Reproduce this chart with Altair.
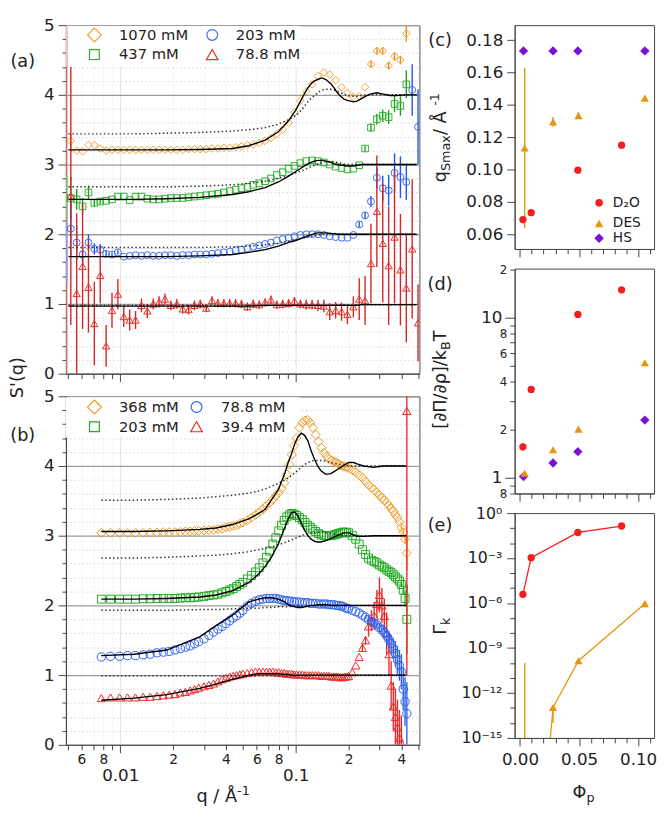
import altair as alt
import pandas as pd

FONT = "DejaVu Sans"
INK = "#222222"
FRAME = "#444444"

C1070, C437, C203, C788 = "#F0A030", "#2DB12D", "#3B6CF2", "#E5322C"
C368, C203B, C788B, C394 = "#EE9A1E", "#22A922", "#2F62F0", "#F02828"
C_D2O, C_DES, C_HS = "#F41E1E", "#E8940C", "#7A12D6"

# ---------------- panel (a) data ----------------
QA = [0.005224, 0.005642, 0.006097, 0.006587, 0.007115, 0.007688, 0.008305, 0.00897, 0.009692, 0.01047,
      0.01131, 0.01222, 0.0132, 0.01426, 0.01541, 0.01664, 0.01798, 0.01942, 0.02099, 0.02267,
      0.02449, 0.02646, 0.02858, 0.03088, 0.03336, 0.03603, 0.03893, 0.04205, 0.04543, 0.04908,
      0.05302, 0.05728, 0.06188, 0.06685, 0.07222, 0.07802, 0.08428, 0.09106, 0.09837, 0.1063,
      0.1148, 0.124, 0.134, 0.1447, 0.1563, 0.1689, 0.1825, 0.1971, 0.213, 0.2301,
      0.2485, 0.2685, 0.2901, 0.3134, 0.3386, 0.3658, 0.3952, 0.4269, 0.4612, 0.4982]
A1070 = [3.34, 3.20, 3.19, 3.28, 3.28, 3.23, 3.20, 3.21, 3.21, 3.21,
         3.21, 3.21, 3.21, 3.21, 3.21, 3.21, 3.21, 3.21, 3.21, 3.21,
         3.22, 3.22, 3.22, 3.22, 3.23, 3.23, 3.24, 3.24, 3.25, 3.26,
         3.28, 3.29, 3.31, 3.34, 3.38, 3.44, 3.50, 3.60, 3.75, 3.92,
         4.05, 4.15, 4.27, 4.32, 4.29, 4.21, 4.11, 4.03, 3.97, 3.98,
         4.11, 4.44, 4.63, 4.63, 4.42, 4.55, 4.50, 4.88, None, None]
A437 = [2.52, 2.50, 2.40, 2.60, 2.45, 2.47, 2.48, 2.50, 2.54, 2.54,
        2.49, 2.54, 2.54, 2.51, 2.50, 2.50, 2.51, 2.52, 2.52, 2.52,
        2.53, 2.54, 2.55, 2.56, 2.57, 2.58, 2.60, 2.62, 2.64, 2.66,
        2.68, 2.71, 2.73, 2.76, 2.80, 2.85, 2.89, 2.94, 2.98, 3.02,
        3.05, 3.06, 3.05, 3.03, 3.00, 2.97, 2.95, 2.93, 2.94, 2.99,
        3.23, 3.53, 3.65, 3.70, 3.68, 3.87, 3.84, 4.15, None, None]
A203 = [2.08, 1.88, 1.71, 1.88, 1.79, 1.78, 1.72, 1.71, 1.74, 1.68,
        1.69, 1.70, 1.69, 1.70, 1.69, 1.69, 1.70, 1.70, 1.69, 1.70,
        1.70, 1.71, 1.71, 1.71, 1.72, 1.73, 1.74, 1.75, 1.77, 1.78,
        1.80, 1.82, 1.84, 1.86, 1.88, 1.91, 1.93, 1.95, 1.97, 1.99,
        2.00, 2.00, 2.00, 1.99, 1.97, 1.96, 1.95, 1.95, 1.99, 2.14,
        2.27, 2.47, 2.81, 2.66, 2.63, 2.88, 2.82, 2.75, 4.07, 3.54]
A788 = [2.55, 1.15, 1.54, 1.24, 0.72, 1.41, 0.40, 0.91, 1.14, 0.82,
        0.77, 0.77, 0.98, 0.90, 1.00, 1.03, 1.07, 0.98, 1.00, 0.93,
        0.92, 0.98, 1.00, 0.94, 1.05, 1.01, 1.01, 1.01, 1.01, 1.00,
        0.96, 1.00, 0.99, 1.02, 1.06, 0.99, 1.00, 1.01, 1.04, 1.00,
        0.99, 0.99, 0.98, 0.97, 0.89, 0.91, 0.89, 0.85, 0.96, 1.07,
        1.05, 1.58, 2.33, 1.87, 1.55, 1.96, 1.49, 1.23, 1.79, 0.73]
A788_E = [1.85, 1.15, 0.90, 0.65, 0.60, 0.40, 0.30, 0.25, 0.22, 0.15,
          0.15, 0.13, 0.10, 0.10, 0.08, 0.08, 0.08, 0.07, 0.07, 0.07,
          0.07, 0.07, 0.06, 0.06, 0.06, 0.06, 0.06, 0.06, 0.06, 0.06,
          0.06, 0.06, 0.06, 0.06, 0.06, 0.06, 0.06, 0.06, 0.06, 0.06,
          0.07, 0.07, 0.08, 0.09, 0.12, 0.12, 0.13, 0.14, 0.15, 0.30,
          0.35, 0.57, 0.80, 0.85, 0.85, 0.95, 0.80, 0.78, 1.00, 0.55]
A1070_ERR = {0: 0.10, 51: 0.05, 52: 0.05, 53: 0.05, 54: 0.05, 55: 0.06, 56: 0.06, 57: 0.12}
A437_ERR = {0: 0.30, 1: 0.15, 2: 0.12, 3: 0.10, 4: 0.05, 5: 0.04, 50: 0.04, 51: 0.06,
            52: 0.08, 53: 0.09, 54: 0.10, 55: 0.12, 56: 0.14, 57: 0.20}
A203_ERR = {0: 0.40, 1: 0.25, 2: 0.15, 3: 0.12, 4: 0.08, 5: 0.08, 6: 0.04, 7: 0.03, 8: 0.03,
            49: 0.04, 50: 0.05, 51: 0.08, 52: 0.15, 53: 0.18, 54: 0.22, 55: 0.28, 56: 0.30,
            57: 0.26, 58: 0.37, 59: 0.54}
A788_ERR = {i: e for i, e in enumerate(A788_E)}
# error bars sitting on the left frame of (a): q, low, high, colour
EDGE_A = [(0.00497, 0.0, 5.0, "#F29A9A"), (0.00497, 2.2, 2.86, "#7FD07F"), (0.00497, 1.3, 2.2, "#8FA8F5")]

# fit (solid) and reference (dotted) curves of (a)
QCA = [0.00507, 0.01198, 0.01842, 0.02834, 0.04357, 0.05403, 0.06701, 0.0796, 0.09057, 0.1,
       0.1076, 0.1123, 0.1173, 0.1224, 0.1278, 0.1334, 0.1393, 0.1423, 0.1486, 0.1585,
       0.1654, 0.1727, 0.1803, 0.1882, 0.1965, 0.2051, 0.2142, 0.2236, 0.2385, 0.2544,
       0.2656, 0.2895, 0.3155, 0.3439, 0.3748, 0.4265, 0.49]
FA1070 = [3.21, 3.21, 3.21, 3.215, 3.23, 3.27, 3.35, 3.47, 3.62, 3.78,
          3.93, 4.02, 4.10, 4.16, 4.20, 4.22, 4.24, 4.24, 4.22, 4.16,
          4.10, 4.03, 3.98, 3.94, 3.92, 3.91, 3.90, 3.91, 3.95, 3.99,
          4.01, 4.03, 4.01, 3.99, 3.99, 4.0, 4.0]
DA1070 = [3.44, 3.44, 3.45, 3.46, 3.48, 3.50, 3.53, 3.58, 3.64, 3.70,
          3.78, 3.84, 3.90, 3.95, 3.99, 4.03, 4.06, 4.07, 4.08, 4.08,
          4.07, 4.05, 4.03, 4.01, 3.99, 3.98, 3.98, 3.98, 3.99, 4.0,
          4.0, 4.0, 4.0, 4.0, 4.0, 4.0, 4.0]
FA437 = [2.50, 2.50, 2.51, 2.53, 2.57, 2.61, 2.67, 2.75, 2.83, 2.90,
         2.95, 2.98, 3.01, 3.03, 3.05, 3.06, 3.06, 3.06, 3.05, 3.03,
         3.01, 3.0, 2.99, 2.99, 2.98, 2.98, 2.98, 2.99, 3.0, 3.0,
         3.0, 3.0, 3.0, 3.0, 3.0, 3.0, 3.0]
DA437 = [2.68, 2.68, 2.68, 2.69, 2.71, 2.73, 2.76, 2.80, 2.84, 2.88,
         2.91, 2.93, 2.95, 2.97, 2.99, 3.01, 3.02, 3.03, 3.04, 3.04,
         3.04, 3.03, 3.02, 3.01, 3.0, 3.0, 3.0, 3.0, 3.0, 3.0,
         3.0, 3.0, 3.0, 3.0, 3.0, 3.0, 3.0]
FA203 = [1.68, 1.68, 1.68, 1.69, 1.71, 1.74, 1.78, 1.83, 1.88, 1.91,
         1.94, 1.96, 1.98, 1.99, 2.01, 2.02, 2.02, 2.02, 2.02, 2.01,
         2.01, 2.0, 2.0, 2.0, 2.0, 2.0, 2.0, 2.0, 2.0, 2.0,
         2.0, 2.0, 2.0, 2.0, 2.0, 2.0, 2.0]
DA203 = [1.81, 1.81, 1.81, 1.81, 1.82, 1.83, 1.85, 1.87, 1.90, 1.92,
         1.94, 1.95, 1.96, 1.97, 1.98, 1.99, 2.0, 2.0, 2.01, 2.01,
         2.01, 2.01, 2.0, 2.0, 2.0, 2.0, 2.0, 2.0, 2.0, 2.0,
         2.0, 2.0, 2.0, 2.0, 2.0, 2.0, 2.0]
FA788 = [0.97, 0.97, 0.97, 0.97, 0.97, 0.97, 0.98, 0.98, 0.98, 0.98,
         0.98, 0.98, 0.98, 0.98, 0.98, 0.98, 0.98, 0.98, 0.98, 0.98,
         0.98, 0.98, 0.98, 0.98, 0.98, 0.98, 0.98, 0.98, 0.99, 0.99,
         0.99, 0.99, 0.99, 0.99, 0.99, 0.99, 0.99]
DA788 = [0.98, 0.98, 0.98, 0.98, 0.98, 0.98, 0.98, 0.98, 0.98, 0.98,
         0.98, 0.98, 0.98, 0.98, 0.98, 0.98, 0.98, 0.98, 0.98, 0.98,
         0.99, 0.99, 0.99, 0.99, 0.99, 0.99, 0.99, 0.99, 0.99, 0.99,
         0.99, 0.99, 0.99, 0.99, 0.99, 0.99, 0.99]

# ---------------- panel (b) data ----------------
QB = [0.0078, 0.0088, 0.0099, 0.011, 0.0122, 0.0135, 0.0148, 0.0162, 0.0176, 0.019,
      0.0205, 0.022, 0.0235, 0.025, 0.0265, 0.028, 0.030, 0.032, 0.034, 0.036,
      0.038, 0.040, 0.042, 0.044, 0.046, 0.048, 0.050, 0.053, 0.056, 0.059,
      0.062, 0.065, 0.068, 0.071, 0.074, 0.077, 0.080, 0.083, 0.086, 0.089,
      0.092, 0.095, 0.098, 0.101, 0.105, 0.109, 0.113, 0.117, 0.121, 0.125,
      0.130, 0.135, 0.140, 0.145, 0.150, 0.155, 0.160, 0.165, 0.170, 0.175,
      0.180, 0.185, 0.190, 0.195, 0.200, 0.210, 0.220, 0.230, 0.240, 0.250,
      0.260, 0.270, 0.280, 0.290, 0.300, 0.310, 0.320, 0.330, 0.340, 0.350,
      0.360, 0.370, 0.380, 0.390, 0.400, 0.410, 0.420, 0.430]
B368 = [3.04, 3.04, 3.04, 3.04, 3.04, 3.04, 3.045, 3.045, 3.05, 3.05,
        3.05, 3.055, 3.06, 3.06, 3.065, 3.07, 3.075, 3.08, 3.085, 3.095,
        3.10, 3.12, 3.13, 3.14, 3.15, 3.17, 3.19, 3.22, 3.26, 3.30,
        3.34, 3.38, 3.43, 3.47, 3.52, 3.57, 3.62, 3.68, 3.76, 3.88,
        4.02, 4.16, 4.29, 4.40, 4.55, 4.62, 4.65, 4.66, 4.62, 4.55,
        4.45, 4.35, 4.26, 4.19, 4.14, 4.10, 4.08, 4.07, 4.05, 4.03,
        4.01, 4.00, 3.99, 3.98, 3.97, 3.94, 3.91, 3.87, 3.83, 3.78,
        3.73, 3.69, 3.66, 3.62, 3.58, 3.54, 3.51, 3.47, 3.43, 3.39,
        3.35, 3.30, 3.26, 3.20, 3.12, 3.05, 2.95, 2.75]
B203 = [2.09, 2.09, 2.09, 2.09, 2.09, 2.095, 2.095, 2.10, 2.10, 2.10,
        2.10, 2.105, 2.11, 2.11, 2.115, 2.12, 2.13, 2.14, 2.15, 2.16,
        2.18, 2.20, 2.22, 2.24, 2.27, 2.30, 2.33, 2.38, 2.43, 2.48,
        2.54, 2.61, 2.69, 2.78, 2.88, 2.97, 3.07, 3.15, 3.22, 3.27,
        3.30, 3.32, 3.31, 3.29, 3.26, 3.23, 3.19, 3.15, 3.12, 3.09,
        3.06, 3.03, 3.01, 3.0, 3.0, 3.0, 3.0, 3.01, 3.02, 3.03,
        3.04, 3.05, 3.05, 3.05, 3.04, 3.0, 2.95, 2.88, 2.80, 2.73,
        2.68, 2.65, 2.63, 2.61, 2.58, 2.56, 2.54, 2.51, 2.49, 2.47,
        2.44, 2.41, 2.38, 2.35, 2.30, 2.22, 2.10, 1.80]
B788 = [1.26, 1.27, 1.27, 1.28, 1.28, 1.29, 1.30, 1.32, 1.33, 1.34,
        1.36, 1.38, 1.40, 1.42, 1.45, 1.48, 1.52, 1.57, 1.62, 1.66,
        1.70, 1.74, 1.78, 1.82, 1.85, 1.89, 1.93, 1.99, 2.03, 2.06,
        2.08, 2.09, 2.10, 2.10, 2.10, 2.10, 2.09, 2.08, 2.07, 2.07,
        2.06, 2.06, 2.05, 2.05, 2.05, 2.04, 2.04, 2.04, 2.03, 2.03,
        2.03, 2.02, 2.02, 2.02, 2.02, 2.01, 2.01, 2.01, 2.0, 2.0,
        1.99, 1.99, 1.97, 1.96, 1.95, 1.93, 1.91, 1.89, 1.86, 1.83,
        1.80, 1.77, 1.75, 1.72, 1.68, 1.65, 1.61, 1.56, 1.51, 1.45,
        1.38, 1.31, 1.22, 1.14, 1.05, 0.80, 0.62, 0.45]
B394 = [0.67, 0.68, 0.68, 0.68, 0.68, 0.69, 0.69, 0.70, 0.71, 0.72,
        0.73, 0.75, 0.76, 0.78, 0.80, 0.82, 0.84, 0.86, 0.88, 0.91,
        0.94, 0.96, 0.98, 0.99, 1.00, 1.01, 1.02, 1.03, 1.04, 1.05,
        1.05, 1.05, 1.05, 1.05, 1.05, 1.04, 1.04, 1.03, 1.03, 1.02,
        1.02, 1.02, 1.01, 1.01, 1.01, 1.01, 1.00, 1.00, 1.00, 1.00,
        1.00, 1.00, 0.99, 0.99, 0.99, 0.99, 0.98, 0.98, 0.98, 0.98,
        0.97, 0.97, 0.98, 0.98, 0.99, 1.04, 1.14, 1.26, 1.39, 1.50,
        1.70, 1.78, 1.85, 2.02, 2.15, 2.00, 1.85, 1.60, 1.30, 0.85,
        0.55, 0.40, 0.25, 0.10, 0.02, None, None, 4.79]
B368_ERR = {84: 0.03, 85: 0.04, 86: 0.06, 87: 0.25}
B203_ERR = {84: 0.04, 85: 0.06, 86: 0.12, 87: 0.50}
B788_ERR = {69: 0.03, 70: 0.04, 71: 0.04, 72: 0.05, 73: 0.05, 74: 0.06, 75: 0.07, 76: 0.08,
            77: 0.10, 78: 0.12, 79: 0.13, 80: 0.15, 81: 0.18, 82: 0.20, 83: 0.22, 84: 0.25,
            85: 0.30, 86: 0.35, 87: 0.45}
B394_ERR = {68: 0.05, 69: 0.06, 70: 0.15, 71: 0.15, 72: 0.20, 73: 0.20, 74: 0.25, 75: 0.25,
            76: 0.25, 77: 0.30, 78: 0.30, 79: 0.35, 80: 0.35, 81: 0.40, 82: 0.40, 83: 0.40,
            84: 0.40, 87: 3.80}

QCB = [0.00779, 0.01198, 0.01842, 0.02834, 0.03513, 0.04357, 0.05403, 0.0615, 0.06701, 0.07303,
       0.0796, 0.08676, 0.09057, 0.09456, 0.09872, 0.1031, 0.1076, 0.1123, 0.1173, 0.1224,
       0.1278, 0.1334, 0.1393, 0.1486, 0.1585, 0.1654, 0.1727, 0.1803, 0.1882, 0.2008,
       0.2142, 0.2236, 0.2437, 0.2773, 0.3155, 0.359, 0.4265]
FB368 = [3.06, 3.06, 3.07, 3.09, 3.11, 3.16, 3.24, 3.32, 3.38, 3.52,
         3.66, 3.90, 4.05, 4.17, 4.32, 4.42, 4.47, 4.44, 4.36, 4.22,
         4.10, 4.00, 3.93, 3.88, 3.89, 3.92, 3.95, 3.98, 4.01, 4.05,
         4.05, 4.03, 4.0, 3.98, 4.0, 4.0, 4.0]
DB368 = [3.51, 3.51, 3.52, 3.54, 3.56, 3.58, 3.61, 3.64, 3.67, 3.71,
         3.75, 3.80, 3.83, 3.86, 3.90, 3.94, 3.98, 4.02, 4.05, 4.07,
         4.08, 4.08, 4.08, 4.07, 4.05, 4.04, 4.03, 4.02, 4.01, 4.0,
         4.0, 4.0, 4.0, 4.0, 4.0, 4.0, 4.0]
FB203 = [2.09, 2.09, 2.10, 2.12, 2.15, 2.21, 2.33, 2.45, 2.56, 2.70,
         2.88, 3.12, 3.24, 3.33, 3.34, 3.28, 3.18, 3.08, 3.0, 2.95,
         2.92, 2.91, 2.91, 2.93, 2.96, 2.98, 3.0, 3.02, 3.04, 3.04,
         3.01, 2.99, 2.99, 3.0, 3.0, 3.0, 3.0]
DB203 = [2.68, 2.68, 2.69, 2.71, 2.72, 2.74, 2.77, 2.80, 2.82, 2.84,
         2.87, 2.90, 2.92, 2.94, 2.96, 2.98, 3.0, 3.02, 3.03, 3.04,
         3.05, 3.05, 3.05, 3.04, 3.03, 3.02, 3.01, 3.0, 3.0, 3.0,
         3.0, 3.0, 3.0, 3.0, 3.0, 3.0, 3.0]
FB788 = [1.28, 1.30, 1.36, 1.55, 1.71, 1.86, 2.05, 2.09, 2.11, 2.11,
         2.09, 2.05, 2.01, 1.99, 1.98, 1.97, 1.97, 1.98, 1.99, 2.0,
         2.0, 2.01, 2.01, 2.01, 2.0, 2.0, 2.0, 2.0, 2.0, 2.0,
         2.0, 2.0, 2.0, 2.0, 2.0, 2.0, 2.0]
DB788 = [1.93, 1.93, 1.93, 1.94, 1.94, 1.95, 1.96, 1.96, 1.97, 1.97,
         1.98, 1.98, 1.98, 1.99, 1.99, 1.99, 1.99, 2.0, 2.0, 2.0,
         2.0, 2.0, 2.0, 2.0, 2.0, 2.0, 2.0, 2.0, 2.0, 2.0,
         2.0, 2.0, 2.0, 2.0, 2.0, 2.0, 2.0]
FB394 = [0.64, 0.67, 0.72, 0.81, 0.87, 0.94, 1.0, 1.02, 1.02, 1.02,
         1.02, 1.01, 1.01, 1.0, 1.0, 1.0, 1.0, 1.0, 1.0, 1.0,
         1.0, 1.0, 1.0, 1.0, 1.0, 1.0, 1.0, 1.0, 1.0, 1.0,
         1.0, 1.0, 1.0, 1.0, 1.0, 1.0, 1.0]
DB394 = [0.99, 0.99, 0.99, 0.99, 0.99, 0.99, 0.99, 0.99, 0.99, 0.99,
         0.99, 0.99, 0.99, 0.99, 0.99, 0.99, 0.99, 0.99, 0.99, 0.99,
         1.0, 1.0, 1.0, 1.0, 1.0, 1.0, 1.0, 1.0, 1.0, 1.0,
         1.0, 1.0, 1.0, 1.0, 1.0, 1.0, 1.0]

# ---------------- panels (c)-(e) data ----------------
PHI_D2O = [0.0025, 0.0095, 0.049, 0.086]
PHI_DES = [0.004, 0.028, 0.0495, 0.1057]
PHI_HS = [0.003, 0.028, 0.049, 0.1057]
QS_D2O = [0.0690, 0.0733, 0.0996, 0.1151]
QS_DES = [0.1133, 0.1295, 0.1334, 0.1442]
QS_DES_ERR = [0.0497, 0.003, 0.002, 0.0]
QS_HS = [0.1734, 0.1734, 0.1734, 0.1734]
DP_D2O = [1.566, 3.57, 10.5, 14.96]
DP_D2O_ERR = [0.08, 0.0, 0.0, 0.0]
DP_DES = [1.07, 1.50, 2.02, 5.24]
DP_HS = [1.02, 1.24, 1.46, 2.30]
GK_D2O = [3.8e-6, 1.07e-3, 5.1e-2, 1.38e-1]
GK_DES = [1e-34, 1.07e-13, 1.41e-10, 9.1e-7]
GK_DES_LO = [1e-40, 1.0e-14, None, None]
GK_DES_HI = [1e-10, 1.07e-13, None, None]

# ---------------- axis tick lists ----------------
Q_TICKS = [0.005, 0.006, 0.007, 0.008, 0.009, 0.01, 0.02, 0.03, 0.04, 0.05, 0.06, 0.07, 0.08, 0.09,
           0.1, 0.2, 0.3, 0.4, 0.5]
S_TICKS = [0.0, 0.2, 0.4, 0.6, 0.8, 1.0, 1.2, 1.4, 1.6, 1.8, 2.0, 2.2, 2.4, 2.6, 2.8, 3.0,
           3.2, 3.4, 3.6, 3.8, 4.0, 4.2, 4.4, 4.6, 4.8, 5.0]
PHI_TICKS = [0.0, 0.01, 0.02, 0.03, 0.04, 0.05, 0.06, 0.07, 0.08, 0.09, 0.10, 0.11]
QS_TICKS = [0.06, 0.08, 0.10, 0.12, 0.14, 0.16, 0.18]
DP_TICKS = [0.8, 0.9, 1, 2, 3, 4, 5, 6, 7, 8, 9, 10, 20]
GK_TICKS = [1e-15, 1e-14, 1e-13, 1e-12, 1e-11, 1e-10, 1e-9, 1e-8, 1e-7, 1e-6, 1e-5, 1e-4,
            1e-3, 1e-2, 1e-1, 1.0]

ONE = pd.DataFrame({"d": [0]})
W_L, H_A, H_B = 360, 355, 355
W_R, H_C, H_D, H_E = 142, 228, 229, 229

CW = {"q": 0.635, "S": 0.635, "m": 0.974, "a": 0.613, "x": 0.592, " ": 0.318, "/": 0.337,
      "Å": 0.684, "-": 0.361, "1": 0.636, "[": 0.390, "]": 0.390, "∂": 0.517, "Π": 0.753,
      "ρ": 0.635, "k": 0.579, "B": 0.686, "T": 0.611, "Γ": 0.557, "Φ": 0.790, "p": 0.635}


def tw(s, size):
    return sum(CW.get(c, 0.6) for c in s) * size


def text(t, x, y, size, angle=0, align="left", baseline="alphabetic", color=INK):
    return alt.Chart(ONE).mark_text(text=t, font=FONT, fontSize=size, angle=angle, align=align,
                                    baseline=baseline, color=color).encode(
        x=alt.value(x), y=alt.value(y))


def rot_title(pieces, xb, ystart):
    out, y = [], ystart
    for t, size, shift in pieces:
        out.append(text(t, xb + shift, y, size, angle=270, align="left"))
        y -= tw(t, size)
    return out


def hor_title(pieces, xstart, yb):
    out, x = [], xstart
    for t, size, rise in pieces:
        out.append(text(t, x, yb - rise, size))
        x += tw(t, size)
    return out


def sym(x, y, shape, color, size, filled):
    return alt.Chart(ONE).mark_point(shape=shape, color=color, size=size, filled=filled,
                                     strokeWidth=1.2, opacity=1).encode(
        x=alt.value(x), y=alt.value(y))


def pts_df(q, s, err):
    rows = []
    for i, (qi, si) in enumerate(zip(q, s)):
        if si is None:
            continue
        e = err.get(i, 0.0)
        rows.append({"q": qi, "s": si, "lo": si - e, "hi": si + e, "e": e})
    return pd.DataFrame(rows)


M_EXPR = "round(datum.value / pow(10, floor(log(datum.value) / LN10 + 0.000001)))"
MAJ_Q = M_EXPR + " == 1"
INT = "abs(datum.value - round(datum.value)) < 0.01"


def q_axis(labels):
    kw = dict(values=Q_TICKS, title=None, grid=True, gridColor="#e2e2e2",
              gridDash={"condition": {"test": MAJ_Q, "value": []}, "value": [1, 2]},
              tickSize={"condition": {"test": MAJ_Q, "value": 8}, "value": 5},
              labelOverlap=False, labelFlush=False)
    if labels:
        kw.update(labelExpr=f"{MAJ_Q} ? (datum.value < 0.05 ? '0.01' : '0.1') : "
                            f"({M_EXPR} % 2 == 0 ? '' + {M_EXPR} : '')",
                  labelFontSize={"condition": {"test": MAJ_Q, "value": 17}, "value": 14},
                  labelPadding={"condition": {"test": MAJ_Q, "value": 15}, "value": 3})
    else:
        kw.update(labels=False)
    return alt.Axis(**kw)


S_AXIS = alt.Axis(values=S_TICKS, title=None, labelExpr=f"{INT} ? format(datum.value, 'd') : ''",
                  labelFontSize=17, labelPadding=4, labelOverlap=False,
                  tickSize={"condition": {"test": INT, "value": 8}, "value": 4},
                  grid=True,
                  gridColor={"condition": {"test": INT, "value": "#9b9b9b"}, "value": "#cdcdcd"},
                  gridDash={"condition": {"test": INT, "value": []}, "value": [1.5, 2.5]},
                  gridWidth={"condition": {"test": INT, "value": 1.3}, "value": 0.8})
Q_SCALE = alt.Scale(type="log", domain=[0.0049, 0.507], nice=False)
S_SCALE = alt.Scale(domain=[0, 5], nice=False, zero=False)


def left_panel(series, qc, fits, dots, legend, height, labels_on, extra):
    X = alt.X("q:Q", scale=Q_SCALE, axis=q_axis(labels_on))
    Y = alt.Y("s:Q", scale=S_SCALE, axis=S_AXIS)
    YLO = alt.Y("lo:Q", scale=S_SCALE, axis=S_AXIS)
    layers = [alt.Chart(ONE).mark_rect(color="white").encode(
        x=alt.value(0), x2=alt.value(238), y=alt.value(1), y2=alt.value(42))]
    for q, lo, hi, col in extra:
        layers.append(alt.Chart(pd.DataFrame({"q": [q], "lo": [lo], "hi": [hi]})).mark_rule(
            color=col, strokeWidth=1.3, clip=True).encode(x=X, y=YLO, y2="hi:Q"))
    for q, s, err, shape, col, bcol, size in series:
        dfp = pts_df(q, s, err)
        dfe = dfp[dfp["e"] > 0]
        if len(dfe):
            layers.append(alt.Chart(dfe).mark_rule(color=bcol, strokeWidth=1.4, clip=True).encode(
                x=X, y=YLO, y2="hi:Q"))
        layers.append(alt.Chart(dfp).mark_point(shape=shape, filled=False, color=col, size=size,
                                                strokeWidth=1, opacity=1, clip=True).encode(x=X, y=Y))
    for s in dots:
        layers.append(alt.Chart(pd.DataFrame({"q": qc, "s": s})).mark_line(
            color="#333333", strokeWidth=1.5, strokeDash=[1.5, 2.5], clip=True).encode(x=X, y=Y))
    for s in fits:
        layers.append(alt.Chart(pd.DataFrame({"q": qc, "s": s})).mark_line(
            color="black", strokeWidth=1.4, clip=True).encode(x=X, y=Y))
    layers += legend
    return alt.layer(*layers).properties(width=W_L, height=height)


def legend_left(entries, xs):
    out = []
    for (shape, col, size, label), (mx, tx, y) in zip(entries, xs):
        out.append(sym(mx, y, shape, col, size, False))
        out.append(text(label, tx, y, 15, baseline="middle"))
    return out


leg_a = legend_left(
    [("diamond", C1070, 200, "1070 mM"), ("circle", C203, 120, "203 mM"),
     ("square", C437, 100, "437 mM"), ("triangle-up", C788, 140, "78.8 mM")],
    [(29, 54, 10), (149, 173, 10), (29, 54, 30), (149, 173, 30)])
leg_a += [text("(a)", -44, 38, 18, align="center", baseline="middle")]

panel_a = left_panel(
    [(QA, A1070, A1070_ERR, "diamond", C1070, "#E8901C", 60),
     (QA, A437, A437_ERR, "square", C437, "#1E9E1E", 45),
     (QA, A203, A203_ERR, "circle", C203, "#1F55EE", 50),
     (QA, A788, A788_ERR, "triangle-up", C788, "#D42424", 55)],
    QCA, [FA1070, FA437, FA203, FA788], [DA1070, DA437, DA203, DA788], leg_a, H_A, False, EDGE_A)

leg_b = legend_left(
    [("diamond", C368, 200, "368 mM"), ("circle", C788B, 120, "78.8 mM"),
     ("square", C203B, 100, "203 mM"), ("triangle-up", C394, 140, "39.4 mM")],
    [(29, 54, 11), (133, 158, 11), (29, 54, 31), (133, 158, 31)])
leg_b += [text("(b)", -44, 41, 18, align="center", baseline="middle"),
          text("S'(q)", -44, -19, 18, angle=270, align="center")]
leg_b += hor_title([("q / Å", 18, 0), ("-1", 13, 7)], 133, H_B + 58)

panel_b = left_panel(
    [(QB, B368, B368_ERR, "diamond", C368, C368, 85),
     (QB, B203, B203_ERR, "square", C203B, C203B, 65),
     (QB, B394, B394_ERR, "triangle-up", C394, C394, 70),
     (QB, B788, B788_ERR, "circle", C788B, C788B, 70)],
    QCB, [FB368, FB203, FB788, FB394], [DB368, DB203, DB788, DB394], leg_b, H_B, True, [])

# ---------------- right column ----------------
MAJ5 = "abs(datum.value * 20 - round(datum.value * 20)) < 0.01"
PHI_SCALE = alt.Scale(domain=[-0.0045, 0.1135], nice=False, zero=False)


def phi_axis(labels):
    kw = dict(values=PHI_TICKS, title=None, grid=False, labelOverlap=False, labelFlush=False,
              tickSize={"condition": {"test": MAJ5, "value": 8}, "value": 5})
    if labels:
        kw.update(labelExpr=f"{MAJ5} ? format(datum.value, '.2f') : ''", labelFontSize=17,
                  labelPadding=6)
    else:
        kw.update(labels=False)
    return alt.Axis(**kw)


def right_panel(yfield_scale, yaxis, sets, extra, height, labels_on):
    X = alt.X("x:Q", scale=PHI_SCALE, axis=phi_axis(labels_on))
    Y = alt.Y("y:Q", scale=yfield_scale, axis=yaxis)
    YLO = alt.Y("lo:Q", scale=yfield_scale, axis=yaxis)
    layers = []
    for xs, ys, lo, hi, shape, col, size, line in sets:
        df = pd.DataFrame({"x": xs, "y": ys})
        if line:
            layers.append(alt.Chart(df).mark_line(color=col, strokeWidth=1.3, clip=True).encode(x=X, y=Y))
        if lo is not None:
            rows = [{"x": a, "lo": b, "hi": c} for a, b, c in zip(xs, lo, hi)
                    if b is not None and c is not None and c > b]
            if rows:
                layers.append(alt.Chart(pd.DataFrame(rows)).mark_rule(
                    color=col, strokeWidth=1.4, clip=True).encode(x=X, y=YLO, y2="hi:Q"))
        layers.append(alt.Chart(df).mark_point(shape=shape, filled=True, color=col, size=size,
                                               opacity=1, clip=True).encode(x=X, y=Y))
    layers += extra
    return alt.layer(*layers).properties(width=W_R, height=height)


def sym_err(vals, errs):
    return [v - e for v, e in zip(vals, errs)], [v + e for v, e in zip(vals, errs)]


lo_c, hi_c = sym_err(QS_DES, QS_DES_ERR)
extra_c = [text("(c)", -76, 16, 18, align="center", baseline="middle")]
extra_c += rot_title([("q", 18, 0), ("Smax", 13, 4), (" / Å", 18, 0), ("-1", 13, -7)], -70, 160)
extra_c += [sym(86, 181, "circle", C_D2O, 60, True), text("D₂O", 100, 181, 14, baseline="middle"),
            sym(86, 202, "triangle-up", C_DES, 75, True), text("DES", 100, 202, 14, baseline="middle"),
            sym(86, 217, "diamond", C_HS, 95, True), text("HS", 100, 217, 14, baseline="middle")]
panel_c = right_panel(
    alt.Scale(domain=[0.0508, 0.1894], nice=False, zero=False),
    alt.Axis(values=QS_TICKS, format=".2f", title=None, grid=False, tickSize=8, labelFontSize=17,
             labelPadding=4),
    [(PHI_HS, QS_HS, None, None, "diamond", C_HS, 90, False),
     (PHI_DES, QS_DES, lo_c, hi_c, "triangle-up", C_DES, 70, False),
     (PHI_D2O, QS_D2O, None, None, "circle", C_D2O, 55, False)],
    extra_c, H_C, False)

lo_d, hi_d = sym_err(DP_D2O, DP_D2O_ERR)
extra_d = [text("(d)", -76, 17, 18, align="center", baseline="middle")]
extra_d += rot_title([("[∂Π/∂ρ]/k", 18, 0), ("B", 13, 4), ("T", 18, 0)], -70, 163)
panel_d = right_panel(
    alt.Scale(type="log", domain=[0.8, 20.3], nice=False),
    alt.Axis(values=DP_TICKS, title=None, grid=False, labelOverlap=False, labelFlush=False,
             labelExpr=f"{MAJ_Q} ? format(datum.value, 'd') : ({M_EXPR} % 2 == 0 ? '' + {M_EXPR} : '')",
             labelFontSize={"condition": {"test": MAJ_Q, "value": 17}, "value": 12},
             tickSize={"condition": {"test": MAJ_Q, "value": 10}, "value": 5},
             labelPadding=3),
    [(PHI_HS, DP_HS, None, None, "diamond", C_HS, 90, False),
     (PHI_DES, DP_DES, None, None, "triangle-up", C_DES, 70, False),
     (PHI_D2O, DP_D2O, lo_d, hi_d, "circle", C_D2O, 55, False)],
    extra_d, H_D, False)

E_EXPR = "round(log(datum.value) / LN10)"
GK_LABEL = (f"{E_EXPR} == 0 ? '10⁰' : {E_EXPR} == -3 ? '10⁻³' : {E_EXPR} == -6 ? '10⁻⁶' : "
            f"{E_EXPR} == -9 ? '10⁻⁹' : {E_EXPR} == -12 ? '10⁻¹²' : {E_EXPR} == -15 ? '10⁻¹⁵' : ''")
MAJ3 = f"{E_EXPR} % 3 == 0"
extra_e = [text("(e)", -76, 13, 18, align="center", baseline="middle")]
extra_e += rot_title([("Γ", 18, 0), ("k", 13, 4)], -70, 124)
extra_e += hor_title([("Φ", 18, 0), ("p", 13, -4)], 59, H_E + 61)
panel_e = right_panel(
    alt.Scale(type="log", domain=[1e-15, 1], nice=False),
    alt.Axis(values=GK_TICKS, title=None, grid=False, labelOverlap=False, labelFlush=False,
             labelExpr=GK_LABEL, labelFontSize=16, labelPadding=5,
             tickSize={"condition": {"test": MAJ3, "value": 8}, "value": 5}),
    [(PHI_D2O, GK_D2O, None, None, "circle", C_D2O, 55, True),
     (PHI_DES, GK_DES, GK_DES_LO, GK_DES_HI, "triangle-up", C_DES, 70, True)],
    extra_e, H_E, True)

left = alt.vconcat(panel_a, panel_b, spacing=23, bounds="flush")
right = alt.vconcat(panel_c, panel_d, panel_e, spacing=20, bounds="flush")
chart = alt.hconcat(left, right, spacing=6).properties(padding=0)
chart = chart.configure_view(stroke=FRAME, strokeWidth=1).configure_axis(
    labelFont=FONT, labelColor=INK, domainColor=FRAME, tickColor=FRAME, domainWidth=1, tickWidth=1)

chart.save("out.html", embed_options={"renderer": "svg", "actions": False})
